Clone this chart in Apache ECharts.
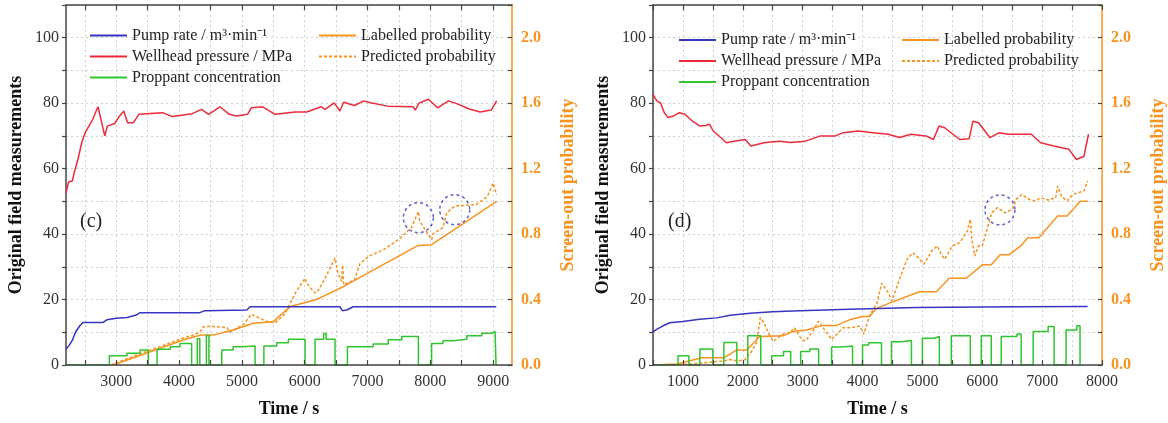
<!DOCTYPE html>
<html>
<head>
<meta charset="UTF-8">
<title>Screen-out probability</title>
<script src="https://cdn.jsdelivr.net/npm/echarts@6/dist/echarts.min.js"></script>
<style>
  html, body { margin: 0; padding: 0; background: #fff; }
  #chart { width: 1168px; height: 423px; }
</style>
</head>
<body>
<div id="chart"></div>
<script>
// values, [time / s, value]
// panel (c)
var pumpC = [[2200,4.8],[2250,6.0],[2300,7.5],[2350,10.0],[2420,12.0],[2470,13.0],[2790,13.0],[2850,13.8],[3000,14.3],[3170,14.5],[3320,15.3],[3380,16.0],[4330,16.0],[4410,16.6],[5080,16.8],[5130,17.8],[6560,17.8],[6600,16.6],[6670,16.8],[6770,17.8],[9050,17.8]];
var pressC = [[2200,52.6],[2240,55.9],[2300,56.2],[2330,58.8],[2390,62.8],[2450,67.9],[2505,71.0],[2565,73.0],[2625,75.0],[2680,77.6],[2710,78.9],[2817,70.0],[2858,73.0],[2975,73.8],[3035,75.6],[3120,77.6],[3150,77.9],[3180,74.0],[3270,74.0],[3360,76.6],[3740,77.1],[3890,75.9],[4210,76.8],[4360,78.1],[4470,76.6],[4650,78.9],[4800,76.6],[4910,76.1],[5090,76.6],[5150,78.6],[5330,78.9],[5530,76.6],[5850,77.3],[6030,77.3],[6265,78.9],[6325,78.1],[6470,80.1],[6560,77.6],[6620,80.3],[6790,79.3],[6940,80.7],[7030,80.2],[7320,79.1],[7730,78.9],[7760,77.9],[7820,80.0],[7970,81.2],[8115,78.6],[8290,80.7],[8440,79.7],[8610,78.3],[8790,77.3],[8970,77.9],[9055,80.7]];
// proppant: each point is where the step changes level
var propC = [[2200,0],[2890,2.8],[3170,3.6],[3380,4.6],[3510,0],[3650,4.8],[3860,5.6],[4015,6.6],[4200,0],[4290,8.0],[4330,0],[4435,9.0],[4475,0],[4680,4.6],[4860,5.6],[5020,5.8],[5210,0],[5350,5.8],[5555,6.8],[5740,7.9],[6005,0],[6165,7.9],[6300,9.6],[6340,7.9],[6483,0],[6680,5.6],[7090,6.4],[7330,7.7],[7545,8.7],[7810,0],[8020,6.6],[8200,7.4],[8370,7.9],[8580,8.9],[8820,9.7],[8990,10.3],[9030,10.8],[9046,0]];
var labelC = [[2950,0],[3500,0.075],[4100,0.157],[4350,0.183],[4560,0.184],[4860,0.214],[5180,0.255],[5500,0.265],[5770,0.357],[6190,0.40],[6350,0.43],[6620,0.48],[7800,0.73],[8020,0.735],[9055,1.0]];
var predC = [[2917,0.0],[3210,0.044],[3504,0.086],[3798,0.126],[4091,0.168],[4200,0.18],[4330,0.2],[4385,0.234],[4550,0.236],[4765,0.228],[4800,0.2],[5030,0.248],[5150,0.31],[5260,0.29],[5380,0.268],[5530,0.258],[5680,0.31],[5850,0.44],[6005,0.53],[6030,0.5],[6164,0.44],[6206,0.45],[6324,0.53],[6483,0.654],[6530,0.56],[6589,0.51],[6605,0.61],[6620,0.49],[6793,0.52],[6880,0.62],[7028,0.666],[7263,0.706],[7498,0.768],[7700,0.84],[7809,0.938],[7830,0.88],[8022,0.766],[8040,0.80],[8200,0.84],[8262,0.93],[8380,0.97],[8560,0.976],[8730,0.98],[8908,1.03],[9000,1.112],[9055,1.04]];
var circC = [[7809,0.90],[8388,0.949]];

// panel (d)
var pumpD = [[500,10.1],[560,10.9],[660,11.9],[780,12.9],[1000,13.3],[1280,14.0],[1560,14.4],[1790,15.2],[2120,15.8],[2500,16.3],[2950,16.6],[3780,17.0],[4900,17.6],[6560,17.8],[7760,17.9]];
var pressD = [[500,82.7],[563,80.7],[626,80.1],[689,77.1],[751,75.6],[846,76.1],[940,77.1],[1034,76.6],[1160,74.5],[1286,73.0],[1380,73.2],[1443,73.6],[1506,71.5],[1632,69.5],[1726,67.9],[1852,68.4],[2040,68.9],[2135,66.9],[2355,67.9],[2606,68.4],[2795,68.0],[3046,68.4],[3298,70.0],[3549,70.0],[3675,71.0],[3926,71.5],[4178,71.0],[4429,70.5],[4618,69.5],[4807,70.5],[5058,70.0],[5184,68.9],[5278,73.0],[5372,72.5],[5624,68.9],[5781,69.1],[5844,74.5],[5938,74.0],[6127,69.5],[6284,71.0],[6441,70.5],[6818,70.5],[6976,67.9],[7196,66.9],[7447,65.9],[7573,62.8],[7699,63.8],[7774,70.5]];
var propD = [[500,0],[917,2.8],[1100,0],[1283,4.9],[1500,0],[1683,6.9],[1900,0],[2083,8.9],[2300,0],[2483,2.8],[2680,4.1],[2800,0],[2967,4.1],[3120,4.9],[3267,0],[3483,5.5],[3650,5.8],[3833,0],[4000,6.1],[4100,6.8],[4317,0],[4483,7.1],[4650,7.5],[4817,0],[5000,8.2],[5200,8.7],[5283,0],[5483,8.9],[5800,0],[5983,8.9],[6150,0],[6317,8.7],[6580,9.5],[6650,0],[6850,10.2],[7100,11.8],[7200,0],[7400,10.7],[7580,12.0],[7633,0]];
var labelD = [[500,0],[900,0.006],[1317,0.044],[1683,0.044],[1900,0.092],[2067,0.092],[2283,0.174],[2667,0.178],[2833,0.204],[3067,0.214],[3333,0.242],[3567,0.242],[3783,0.276],[4000,0.296],[4117,0.296],[4233,0.346],[4450,0.378],[4950,0.448],[5233,0.448],[5450,0.53],[5733,0.53],[6000,0.612],[6150,0.612],[6300,0.674],[6450,0.674],[6650,0.73],[6760,0.778],[6944,0.778],[7259,0.91],[7416,0.91],[7636,1.0],[7761,1.0]];
var predD = [[940,0],[1349,0.014],[1663,0.024],[1789,0.034],[1915,0.024],[2040,0.034],[2135,0.076],[2229,0.136],[2292,0.29],[2355,0.258],[2449,0.178],[2512,0.146],[2669,0.188],[2795,0.198],[2858,0.228],[2983,0.156],[3046,0.146],[3172,0.208],[3266,0.268],[3361,0.218],[3486,0.156],[3675,0.228],[3801,0.228],[3958,0.238],[4021,0.188],[4115,0.30],[4241,0.38],[4320,0.50],[4429,0.442],[4492,0.392],[4618,0.524],[4744,0.646],[4838,0.686],[4932,0.656],[5027,0.616],[5152,0.696],[5247,0.728],[5310,0.68],[5372,0.646],[5498,0.728],[5624,0.748],[5750,0.818],[5800,0.89],[5825,0.768],[5875,0.666],[5938,0.728],[6001,0.728],[6064,0.808],[6158,0.93],[6253,0.962],[6378,0.93],[6504,0.952],[6567,1.012],[6661,1.042],[6787,1.012],[6881,1.002],[6976,1.022],[7101,1.008],[7227,1.022],[7259,1.094],[7322,1.032],[7416,1.002],[7510,1.042],[7699,1.064],[7761,1.124]];
var circD = [[6295,0.948]];

// axis ticks / labels
var ticksC = [2500,3000,3500,4000,4500,5000,5500,6000,6500,7000,7500,8000,8500,9000];
var labelsC = [3000,4000,5000,6000,7000,8000,9000];
var ticksD = [500,1000,1500,2000,2500,3000,3500,4000,4500,5000,5500,6000,6500,7000,7500,8000];
var labelsD = [1000,2000,3000,4000,5000,6000,7000,8000];
var leftLabels = [0,20,40,60,80,100];
var rightLabels = [0,0.4,0.8,1.2,1.6,2.0];

var names = ['Pump rate / m³·min⁻¹', 'Wellhead pressure / MPa', 'Proppant concentration', 'Labelled probability', 'Predicted probability'];

var serif = '"Liberation Serif", "Times New Roman", serif';
var ORANGE = '#F7931E';
var DARK = '#444';

var chart = echarts.init(document.getElementById('chart'));

function plain(v) { return String(v); }

function xAxes(gi, min, max, ticks, labels) {
  return [{
    type: 'value', gridIndex: gi, min: min, max: max, position: 'bottom', z: 5,
    axisLine: { show: true, onZero: false, lineStyle: { color: DARK, width: 1.5 } },
    axisTick: { show: true, inside: true, length: 5, customValues: ticks, lineStyle: { color: DARK, width: 1.2 } },
    axisLabel: { customValues: labels, formatter: plain, color: '#333', fontFamily: serif, fontSize: 16, margin: 9 },
    splitLine: { show: false },
    name: 'Time / s', nameLocation: 'middle', nameGap: 35,
    nameTextStyle: { fontFamily: serif, fontWeight: 'bold', fontSize: 18, color: '#111' }
  }, {
    type: 'value', gridIndex: gi, min: min, max: max, position: 'top',
    axisLine: { show: true, onZero: false, lineStyle: { color: DARK, width: 1.5 } },
    axisTick: { show: true, inside: true, length: 5, customValues: ticks, lineStyle: { color: DARK, width: 1.2 } },
    axisLabel: { show: false },
    splitLine: { show: true, lineStyle: { color: '#cfcfcf', type: [2, 3], width: 1 } }
  }];
}

function yAxes(gi) {
  return [{
    type: 'value', gridIndex: gi, min: 0, max: 110, interval: 10, position: 'left',
    axisLine: { show: true, onZero: false, lineStyle: { color: DARK, width: 1.5 } },
    axisTick: { show: true, inside: false, length: 4, lineStyle: { color: DARK, width: 1.2 } },
    axisLabel: { customValues: leftLabels, formatter: plain, color: '#333', fontFamily: serif, fontSize: 16, margin: 7 },
    splitLine: { show: true, lineStyle: { color: '#cfcfcf', type: [2, 3], width: 1 } },
    name: 'Original field measurements', nameLocation: 'middle', nameRotate: 90, nameGap: 41,
    nameTextStyle: { fontFamily: serif, fontWeight: 'bold', fontSize: 18, color: '#111' }
  }, {
    type: 'value', gridIndex: gi, min: 0, max: 2.2, interval: 0.2, position: 'right',
    axisLine: { show: true, onZero: false, lineStyle: { color: ORANGE, width: 1.5 } },
    axisTick: { show: true, inside: true, length: 4, lineStyle: { color: DARK, width: 1.2 } },
    axisLabel: { customValues: rightLabels, formatter: function (v) { return v.toFixed(1); },
      color: ORANGE, fontFamily: serif, fontWeight: 'bold', fontSize: 16, margin: 9 },
    splitLine: { show: false },
    name: 'Screen-out probability', nameLocation: 'middle', nameRotate: 90, nameGap: 47,
    nameTextStyle: { fontFamily: serif, fontWeight: 'bold', fontSize: 18, color: ORANGE }
  }];
}

function panelSeries(gi, pump, press, prop, lab, pred, circ) {
  var xb = gi * 2, yl = gi * 2, yr = gi * 2 + 1;
  var line = function (name, data, color, yi, extra) {
    var s = { name: name, type: 'line', xAxisIndex: xb, yAxisIndex: yi, data: data,
      symbol: 'none', silent: true, lineStyle: { color: color, width: 1.5 }, itemStyle: { color: color } };
    for (var k in extra) s[k] = extra[k];
    return s;
  };
  return [
    line(names[3], lab, ORANGE, yr, {}),
    line(names[4], pred, ORANGE, yr, { lineStyle: { color: ORANGE, width: 1.5, type: [3, 2] } }),
    line(names[2], prop, '#2FC52F', yl, { step: 'end' }),
    line(names[1], press, '#EC2B3A', yl, {}),
    line(names[0], pump, '#3535C0', yl, {}),
    { type: 'scatter', xAxisIndex: xb, yAxisIndex: yr, data: circ, symbol: 'circle', symbolSize: 30, silent: true, z: 4,
      itemStyle: { color: 'rgba(0,0,0,0)', borderColor: '#3A3AB8', borderWidth: 1.5, borderType: [3, 3] } }
  ];
}

// legend key: the series' own line; the marker is shrunk to nothing by a tiny itemHeight
function legend(items, left, top) {
  return { data: items, left: left, top: top, orient: 'vertical', padding: 0, itemWidth: 37, itemHeight: 0.4, itemGap: 0,
    selectedMode: false, itemStyle: { borderWidth: 0 },
    textStyle: { fontFamily: serif, fontSize: 16, color: '#222', lineHeight: 21 } };
}

var option = {
  animation: false,
  backgroundColor: '#fff',
  grid: [
    { left: 66, right: 656, top: 5, bottom: 58 },
    { left: 653, right: 65, top: 5, bottom: 58 }
  ],
  xAxis: xAxes(0, 2200, 9300, ticksC, labelsC).concat(xAxes(1, 500, 8000, ticksD, labelsD)),
  yAxis: yAxes(0).concat(yAxes(1)),
  legend: [
    legend(names.slice(0, 3), 89, 25),
    legend(names.slice(3), 318, 25),
    legend(names.slice(0, 3), 678, 29.5),
    legend(names.slice(3), 901, 29.5)
  ],
  graphic: [
    { type: 'text', left: 80, top: 212, style: { text: '(c)', font: '20px "Liberation Serif"', fill: '#222' } },
    { type: 'text', left: 668, top: 212, style: { text: '(d)', font: '20px "Liberation Serif"', fill: '#222' } }
  ],
  series: panelSeries(0, pumpC, pressC, propC, labelC, predC, circC)
    .concat(panelSeries(1, pumpD, pressD, propD, labelD, predD, circD))
};

chart.setOption(option);
</script>
</body>
</html>
